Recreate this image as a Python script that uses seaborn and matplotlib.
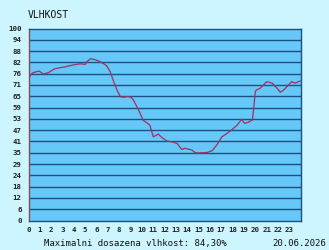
import numpy as np
import pandas as pd
import seaborn as sns
import matplotlib
matplotlib.use("Agg")
import matplotlib.pyplot as plt

# ---- data ----
hours = [0, 0.2, 0.4, 0.7, 0.95, 1.3, 1.75, 2.3, 2.7, 3.2, 3.6, 4.1, 4.55, 5.0, 5.2,
         5.45, 5.7, 6.0, 6.3, 6.6, 6.9, 7.2, 7.5, 7.8, 8.1, 8.4, 8.7, 9.0, 9.25, 9.7,
         10.1, 10.4, 10.7, 11.0, 11.45, 11.8, 12.2, 12.6, 13.1, 13.5, 13.8, 14.1, 14.4,
         14.7, 15.0, 15.4, 15.8, 16.2, 16.6, 17.05, 17.3, 17.6, 17.9, 18.4, 18.8, 19.05,
         19.4, 19.75, 20.0, 20.1, 20.4, 20.7, 21.0, 21.5, 21.9, 22.2, 22.5, 22.8, 23.2,
         23.5, 23.95]
humidity = [73.5, 76.0, 77.0, 77.5, 77.8, 76.3, 77.0, 79.0, 79.5, 80.0, 80.6, 81.2, 81.6,
            81.3, 83.0, 84.2, 84.0, 83.5, 82.7, 81.8, 80.5, 77.5, 72.5, 68.0, 64.5, 64.2,
            64.6, 64.3, 62.8, 57.6, 52.3, 51.0, 49.7, 43.6, 45.0, 43.0, 41.4, 41.0, 40.2,
            37.0, 37.6, 37.2, 36.7, 35.3, 35.2, 35.3, 35.5, 36.4, 39.3, 43.6, 44.5, 45.8,
            47.1, 49.7, 52.7, 50.6, 51.2, 52.5, 67.0, 68.0, 68.8, 70.5, 72.3, 71.5, 69.0,
            66.8, 68.0, 69.7, 72.3, 71.5, 72.7]
x_ticks = list(range(24))
x_labels = [str(h) for h in x_ticks]
y_labels = ["0", "6", "12", "18", "24", "29", "35", "41", "47", "53", "59", "65",
            "71", "76", "82", "88", "94", "100"]
title = "VLHKOST"
footer = "Maximalni dosazena vlhkost: 84,30%"
date_text = "20.06.2026"

# ---- style ----
sns.set_style("white")
plt.rcParams["font.family"] = ["DejaVu Sans Mono", "DejaVu Sans"]

bg = "#ccf5ff"
face = "#66c8f8"
grid_c = "#1c5080"
line_c = "#a03060"

fig = plt.figure(figsize=(3.29, 2.5), dpi=100, facecolor=bg)
ax = fig.add_axes([28.5 / 329, 1 - 220.5 / 250, (300.7 - 28.5) / 329, (220.5 - 28.5) / 250])
ax.set_facecolor(face)

df = pd.DataFrame({"hour": hours, "humidity": humidity})
sns.lineplot(data=df, x="hour", y="humidity", ax=ax, color=line_c, linewidth=0.9)

y_pos = np.linspace(0, 100, len(y_labels))
for y in y_pos[1:-1]:
    ax.axhline(y, color=grid_c, linewidth=1.0, zorder=1)

ax.set_xlim(0, 24)
ax.set_ylim(0, 100)
ax.set_xticks(x_ticks)
ax.set_xticklabels(x_labels, fontsize=5.3, fontweight="bold", color="#222222")
ax.set_yticks(y_pos)
ax.set_yticklabels(y_labels, fontsize=5.3, fontweight="bold", color="#222222")
ax.tick_params(axis="x", length=0, pad=5)
ax.tick_params(axis="y", length=0, pad=5)
ax.set_xlabel("")
ax.set_ylabel("")

for side in ["top", "right", "bottom"]:
    ax.spines[side].set_color(grid_c)
    ax.spines[side].set_linewidth(1.0)
ax.spines["left"].set_color("#8a4a5a")
ax.spines["left"].set_linewidth(1.0)

fig.text(28 / 329, 1 - 15.5 / 250, title, fontsize=7, color="#111111",
         ha="left", va="center")
fig.text(135 / 329, 1 - 243.5 / 250, footer, fontsize=6.5, color="#111111",
         ha="center", va="center")
fig.text(326 / 329, 1 - 243.5 / 250, date_text, fontsize=6.5, color="#111111",
         ha="right", va="center")

fig.savefig("out.png", dpi=100, facecolor=bg)
